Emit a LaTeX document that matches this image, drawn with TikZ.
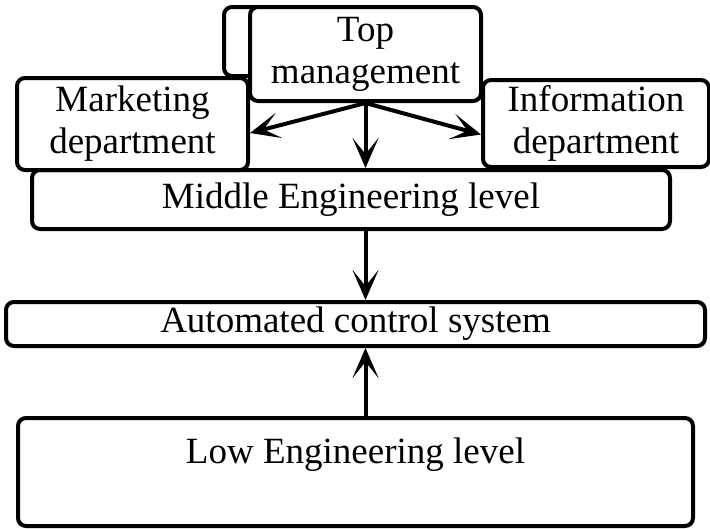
\documentclass[tikz,border=0pt]{standalone}
\usepackage{fontspec}
\setmainfont{Liberation Serif}
\usetikzlibrary{arrows.meta}
\begin{document}
\begin{tikzpicture}[x=1pt,y=1pt,
  box/.style={draw=black, line width=4pt, rounded corners=8pt, fill=white, inner sep=0pt,
    align=center, font=\fontsize{37}{42}\selectfont},
  arr/.style={line width=4pt, -{Stealth[length=30pt,width=26pt,inset=16pt]}}]
\useasboundingbox (0,0) rectangle (710,-528);
% back box behind top management
\node[box, minimum width=110pt, minimum height=69pt] (back) at (279,-41.5) {};
\node[box, minimum width=231pt, minimum height=94pt] (top) at (365.5,-54) {Top\\management};
\node[box, minimum width=638pt, minimum height=59pt] (mid) at (351,-199.5) {Middle Engineering level};
\node[box, minimum width=231pt, minimum height=92pt] (mkt) at (132.5,-124) {Marketing\\department};
\node[box, minimum width=226pt, minimum height=87pt] (info) at (596,-123.5) {Information\\department};
\node[box, minimum width=699pt, minimum height=44pt] (acs) at (355.5,-324) {Automated control system};
\node[box, minimum width=675pt, minimum height=108pt] (low) at (355.5,-472) {Low Engineering level\\~};
\draw[arr] (top.south) -- ([yshift=-9pt]mkt.east);
\draw[arr] (top.south) -- ([yshift=-11pt]info.west);
\draw[arr] (top.south) -- (top.south |- mid.north);
\draw[arr] (top.south |- mid.south) -- (top.south |- acs.north);
\draw[arr] (top.south |- low.north) -- (top.south |- acs.south);
\end{tikzpicture}
\end{document}
